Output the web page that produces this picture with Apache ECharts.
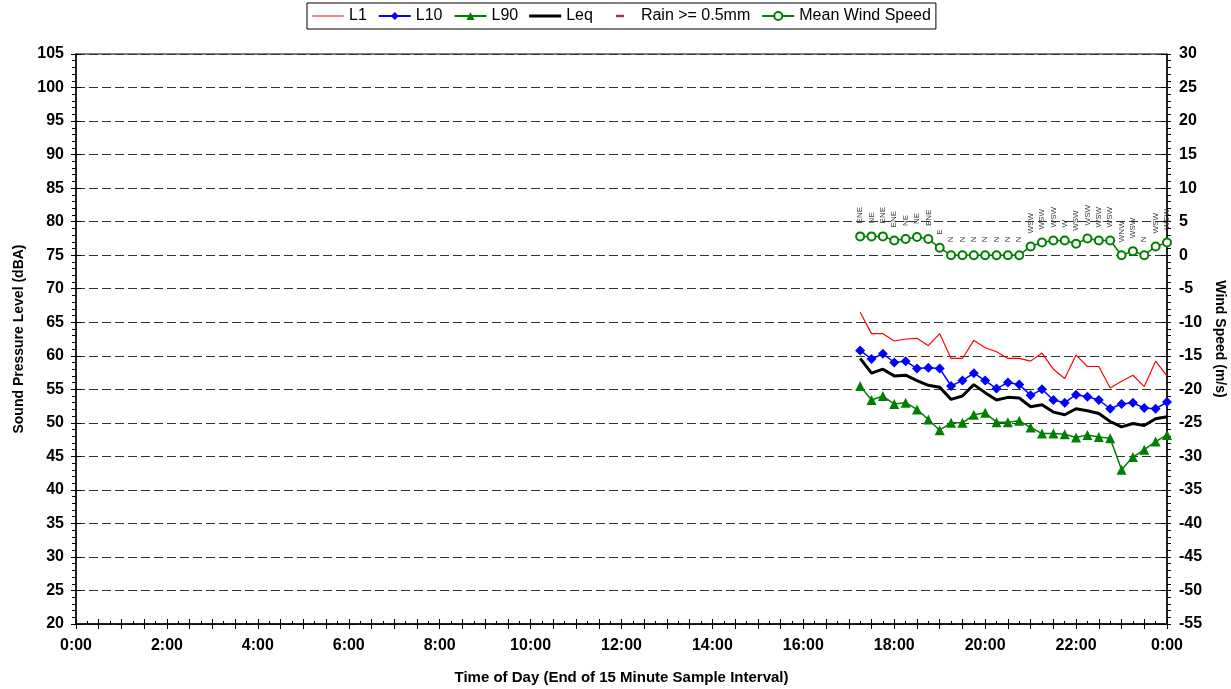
<!DOCTYPE html>
<html>
<head>
<meta charset="utf-8">
<script src="https://cdn.jsdelivr.net/npm/echarts@6/dist/echarts.min.js"></script>
<style>
html, body { margin: 0; padding: 0; background: #fff; }
#chart { width: 1231px; height: 689px; }
</style>
</head>
<body>
<div id="chart"></div>
<script>
// end of each 15 minute sample interval
const times = ['17:15', '17:30', '17:45', '18:00', '18:15', '18:30', '18:45',
  '19:00', '19:15', '19:30', '19:45', '20:00', '20:15', '20:30', '20:45',
  '21:00', '21:15', '21:30', '21:45', '22:00', '22:15', '22:30', '22:45',
  '23:00', '23:15', '23:30', '23:45', '24:00']

const l1 = [66.5, 63.3, 63.3, 62.2, 62.5, 62.6, 61.5, 63.3, 59.6, 59.6, 62.3, 61.2, 60.6, 59.6,
  59.6, 59.2, 60.4, 58.0, 56.6, 60.1, 58.4, 58.4, 55.2, 56.2, 57.1, 55.4, 59.2, 57.0]
const l10 = [60.8, 59.5, 60.3, 59.0, 59.2, 58.1, 58.2, 58.1, 55.5, 56.3, 57.4, 56.3, 55.1, 56.0,
  55.7, 54.1, 55.0, 53.4, 53.0, 54.2, 53.9, 53.4, 52.1, 52.8, 53.0, 52.2, 52.1, 53.1]
const l90 = [55.5, 53.4, 54.0, 52.8, 53.0, 52.0, 50.5, 48.9, 50.0, 50.0, 51.2, 51.5, 50.1, 50.1,
  50.3, 49.3, 48.4, 48.4, 48.3, 47.8, 48.2, 47.9, 47.7, 43.0, 44.9, 46.0, 47.2, 48.2]
const leq = [59.6, 57.4, 58.0, 57.0, 57.1, 56.3, 55.6, 55.3, 53.5, 54.0, 55.7, 54.5, 53.4, 53.8,
  53.7, 52.4, 52.7, 51.6, 51.2, 52.1, 51.8, 51.4, 50.2, 49.4, 49.9, 49.6, 50.6, 50.9]
const rain = []
const windSpeed = [2.8, 2.8, 2.8, 2.2, 2.4, 2.7, 2.4, 1.1, 0, 0, 0, 0, 0, 0,
  0, 1.3, 1.9, 2.2, 2.2, 1.7, 2.5, 2.2, 2.2, 0, 0.6, 0, 1.3, 1.9]
const windDir = ['ENE', 'NE', 'ENE', 'ENE', 'NE', 'NE', 'ENE', 'E', 'N', 'N', 'N', 'N', 'N', 'N',
  'N', 'WSW', 'WSW', 'WSW', 'W', 'WSW', 'WSW', 'WSW', 'WSW', 'WNW', 'WSW', 'N', 'WSW', 'WSW']

function toHours (t) {
  let parts = t.split(':')
  return Number(parts[0]) + Number(parts[1]) / 60
}

function pairs (values) {
  return values.map((v, i) => [toHours(times[i]), v])
}

const font = 'Arial, "Liberation Sans", sans-serif'
// legend icons: a bar of height h inside a 32x10 box (tiny corner specks keep the box size)
function barIcon (x0, x1, h) {
  let a = (10 - h) / 2
  let b = a + h
  return 'path://M0,0L0.01,0L0,0.01Z M' + x0 + ',' + a + 'H' + x1 + 'V' + b + 'H' + x0 + 'Z M31.99,10L32,10L32,9.99Z'
}

let chart = echarts.init(document.getElementById('chart'))

let option = {
  backgroundColor: '#fff',
  animation: false,
  textStyle: { fontFamily: font },
  legend: {
    left: 307,
    top: 3,
    padding: [5, 5],
    itemGap: 11,
    itemWidth: 32,
    itemHeight: 10,
    borderColor: '#000',
    borderWidth: 1,
    textStyle: { fontSize: 16, color: '#000', fontFamily: font },
    data: [
      { name: 'L1', icon: barIcon(0, 32, 1.2), itemStyle: { color: '#ff0000' } },
      'L10',
      'L90',
      { name: 'Leq', icon: barIcon(0, 32, 3), itemStyle: { color: '#000' } },
      { name: 'Rain >= 0.5mm', icon: barIcon(12, 20, 2.5), itemStyle: { color: '#993366' } },
      'Mean Wind Speed'
    ]
  },
  grid: {
    left: 76,
    right: 64,
    top: 54,
    bottom: 65,
    outerBoundsMode: 'none',
    show: true,
    borderColor: '#000',
    borderWidth: 1
  },
  xAxis: [
    {
      type: 'value',
      min: 0,
      max: 24,
      interval: 0.5,
      name: 'Time of Day (End of 15 Minute Sample Interval)',
      nameLocation: 'middle',
      nameGap: 46,
      nameTextStyle: { fontSize: 15, fontWeight: 'bold', color: '#000' },
      axisLine: { onZero: false, lineStyle: { color: '#000', width: 1.5 } },
      axisTick: { length: 5, lineStyle: { color: '#000' } },
      axisLabel: {
        margin: 14,
        fontSize: 16,
        fontWeight: 'bold',
        color: '#000',
        formatter: function (v) {
          if (v % 2 !== 0) return ''
          return (v % 24) + ':00'
        }
      },
      splitLine: { show: false }
    },
    {
      type: 'value',
      position: 'bottom',
      min: 0,
      max: 24,
      interval: 0.5,
      axisLine: { show: false, onZero: false },
      axisTick: { inside: true, length: 5, lineStyle: { color: '#000' } },
      minorTick: { show: true, splitNumber: 2, length: 3, lineStyle: { color: '#000' } },
      axisLabel: { show: false },
      splitLine: { show: false }
    }
  ],
  yAxis: [
    {
      type: 'value',
      position: 'left',
      min: 20,
      max: 105,
      interval: 5,
      name: 'Sound Pressure Level (dBA)',
      nameLocation: 'middle',
      nameGap: 50,
      nameTextStyle: { fontSize: 14, fontWeight: 'bold', color: '#000' },
      axisLine: { show: true, onZero: false, lineStyle: { color: '#000', width: 1.5 } },
      axisTick: { show: true, length: 5, lineStyle: { color: '#000' } },
      minorTick: { show: true, splitNumber: 5, length: 4, lineStyle: { color: '#000' } },
      axisLabel: { margin: 12, fontSize: 16, fontWeight: 'bold', color: '#000' },
      splitLine: { show: true, lineStyle: { color: '#333', type: [9, 4], width: 1 } }
    },
    {
      type: 'value',
      position: 'right',
      min: -55,
      max: 30,
      interval: 5,
      name: 'Wind Speed (m/s)',
      nameLocation: 'middle',
      nameGap: 34,
      nameRotate: -90,
      nameTextStyle: { fontSize: 14, fontWeight: 'bold', color: '#000' },
      axisLine: { show: true, onZero: false, lineStyle: { color: '#000', width: 1.5 } },
      axisTick: { show: true, length: 4, lineStyle: { color: '#000' } },
      minorTick: { show: true, splitNumber: 5, length: 4, lineStyle: { color: '#000' } },
      axisLabel: { margin: 12, fontSize: 16, fontWeight: 'bold', color: '#000' },
      splitLine: { show: false }
    },
    {
      type: 'value',
      position: 'left',
      min: 20,
      max: 105,
      interval: 5,
      axisLine: { show: false, onZero: false },
      axisTick: { show: true, inside: true, length: 5, lineStyle: { color: '#000' } },
      axisLabel: { show: false },
      splitLine: { show: false }
    },
    {
      type: 'value',
      position: 'right',
      min: -55,
      max: 30,
      interval: 5,
      axisLine: { show: false, onZero: false },
      axisTick: { show: true, inside: true, length: 6, lineStyle: { color: '#000' } },
      axisLabel: { show: false },
      splitLine: { show: false }
    }
  ],
  series: [
    {
      name: 'L1',
      type: 'line',
      data: pairs(l1),
      symbol: 'none',
      color: '#ff0000',
      lineStyle: { width: 1.2, color: '#ff0000' },
      z: 3
    },
    {
      name: 'L10',
      type: 'line',
      data: pairs(l10),
      symbol: 'diamond',
      symbolSize: 10,
      color: '#0000ff',
      lineStyle: { width: 1.5, color: '#0000ff' },
      z: 4
    },
    {
      name: 'L90',
      type: 'line',
      data: pairs(l90),
      symbol: 'triangle',
      symbolSize: 10,
      color: '#008000',
      lineStyle: { width: 1.5, color: '#008000' },
      z: 4
    },
    {
      name: 'Leq',
      type: 'line',
      data: pairs(leq),
      symbol: 'none',
      color: '#000000',
      lineStyle: { width: 3, color: '#000000' },
      z: 5
    },
    {
      name: 'Rain >= 0.5mm',
      type: 'line',
      data: rain,
      symbol: 'none',
      color: '#993366'
    },
    {
      name: 'Mean Wind Speed',
      type: 'line',
      yAxisIndex: 1,
      data: pairs(windSpeed),
      symbol: 'emptyCircle',
      symbolSize: 8,
      color: '#008000',
      itemStyle: { borderWidth: 1.5 },
      lineStyle: { width: 1.5, color: '#008000' },
      label: {
        show: true,
        position: 'top',
        rotate: 90,
        align: 'left',
        verticalAlign: 'middle',
        distance: 8,
        fontSize: 8,
        color: '#333',
        formatter: function (p) { return windDir[p.dataIndex] }
      },
      z: 6
    }
  ]
}

chart.setOption(option)
</script>
</body>
</html>
